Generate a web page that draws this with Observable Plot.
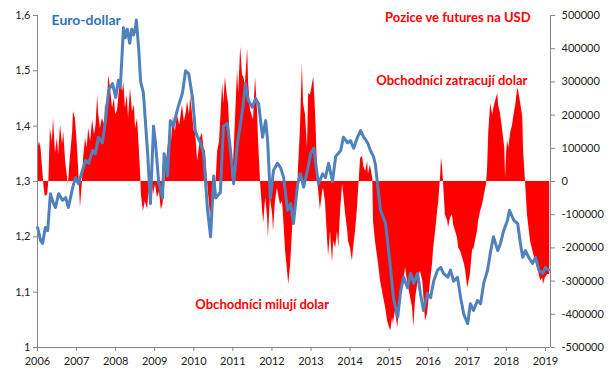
<!DOCTYPE html>
<html><head><meta charset="utf-8">
<script src="https://cdn.jsdelivr.net/npm/d3@7"></script>
<script src="https://cdn.jsdelivr.net/npm/@observablehq/plot@0.6"></script>
<style>body{margin:0;background:#fff}#chart{width:615px;height:381px}</style>
</head><body><div id="chart"></div>
<script>
// Net positions in USD futures (thousands of contracts), by decimal year
const posYears = [2006.00,2006.05,2006.09,2006.13,2006.17,2006.20,2006.26,2006.29,2006.33,2006.38,2006.41,2006.46,2006.51,2006.54,2006.59,2006.64,2006.67,2006.72,2006.76,2006.79,2006.84,2006.90,2006.92,2006.97,2007.02,2007.06,2007.10,2007.15,2007.18,2007.23,2007.27,2007.31,2007.36,2007.41,2007.46,2007.50,2007.54,2007.56,2007.61,2007.66,2007.72,2007.74,2007.79,2007.82,2007.87,2007.92,2007.97,2008.00,2008.05,2008.12,2008.18,2008.21,2008.25,2008.30,2008.33,2008.38,2008.43,2008.48,2008.51,2008.56,2008.60,2008.64,2008.66,2008.71,2008.76,2008.82,2008.85,2008.89,2008.93,2008.97,2009.02,2009.07,2009.12,2009.17,2009.21,2009.25,2009.30,2009.33,2009.38,2009.43,2009.48,2009.53,2009.58,2009.64,2009.66,2009.71,2009.76,2009.81,2009.84,2009.89,2009.92,2009.97,2010.01,2010.04,2010.10,2010.15,2010.17,2010.22,2010.26,2010.30,2010.34,2010.38,2010.43,2010.48,2010.51,2010.56,2010.61,2010.66,2010.68,2010.74,2010.77,2010.81,2010.86,2010.89,2010.94,2010.99,2011.02,2011.07,2011.12,2011.15,2011.20,2011.25,2011.27,2011.32,2011.38,2011.40,2011.45,2011.53,2011.58,2011.63,2011.66,2011.71,2011.76,2011.79,2011.84,2011.89,2011.91,2011.96,2012.02,2012.04,2012.09,2012.14,2012.17,2012.22,2012.27,2012.30,2012.35,2012.40,2012.43,2012.48,2012.53,2012.55,2012.60,2012.66,2012.68,2012.73,2012.78,2012.81,2012.86,2012.91,2012.94,2012.99,2013.04,2013.07,2013.12,2013.17,2013.19,2013.24,2013.30,2013.32,2013.37,2013.42,2013.45,2013.50,2013.55,2013.58,2013.63,2013.68,2013.71,2013.76,2013.81,2013.83,2013.88,2013.94,2013.96,2014.01,2014.06,2014.09,2014.14,2014.19,2014.22,2014.27,2014.32,2014.35,2014.40,2014.45,2014.47,2014.52,2014.58,2014.60,2014.65,2014.73,2014.78,2014.86,2014.91,2014.96,2015.01,2015.04,2015.09,2015.11,2015.16,2015.22,2015.27,2015.29,2015.34,2015.37,2015.42,2015.47,2015.50,2015.55,2015.60,2015.63,2015.68,2015.73,2015.78,2015.80,2015.86,2015.88,2015.93,2015.98,2016.01,2016.06,2016.11,2016.14,2016.19,2016.24,2016.27,2016.32,2016.34,2016.37,2016.39,2016.44,2016.50,2016.52,2016.57,2016.62,2016.65,2016.70,2016.75,2016.78,2016.83,2016.88,2016.93,2016.96,2017.01,2017.03,2017.08,2017.14,2017.16,2017.21,2017.26,2017.29,2017.34,2017.39,2017.44,2017.49,2017.52,2017.55,2017.60,2017.65,2017.67,2017.72,2017.78,2017.80,2017.85,2017.90,2017.93,2017.96,2017.98,2018.01,2018.03,2018.06,2018.11,2018.16,2018.19,2018.24,2018.29,2018.31,2018.36,2018.42,2018.44,2018.49,2018.54,2018.62,2018.70,2018.75,2018.80,2018.88,2018.93,2018.95,2019.00,2019.06,2019.11];
const posValues = [90,120,100,40,-20,-45,-40,0,160,120,190,85,130,80,170,110,150,60,20,-10,70,150,210,190,110,20,-80,0,70,130,100,160,120,185,140,170,260,210,160,190,170,235,200,320,280,220,250,200,215,305,270,300,220,260,190,280,210,230,160,190,110,20,-40,-90,-60,-85,-30,-60,0,-40,-10,-50,-30,-85,-70,-20,60,90,140,120,195,150,200,170,185,230,180,210,240,200,255,200,150,160,60,110,130,145,100,90,20,-40,-108,-60,-50,-30,90,120,165,295,235,315,255,235,95,10,60,195,335,265,405,315,320,290,400,305,215,185,315,215,115,-5,-85,-125,-50,-110,-170,-50,-100,-150,-60,-20,-40,-70,-60,-110,-210,-270,-310,-250,-140,-90,-100,-40,40,160,355,235,200,100,265,260,295,315,200,20,-20,-85,-30,-20,-60,-165,-225,-150,-245,-180,-200,-150,-200,-80,-10,-30,-90,-150,-180,-200,-240,-200,-150,-80,-20,70,75,45,30,60,20,50,10,-120,-180,-250,-300,-350,-380,-420,-440,-450,-410,-430,-390,-440,-380,-350,-320,-300,-260,-300,-320,-350,-380,-440,-350,-310,-280,-270,-300,-330,-420,-400,-370,-300,-250,-200,-150,-90,-60,20,70,40,0,-100,-120,-140,-110,-100,-130,-150,-170,-200,-210,-230,-250,-270,-320,-310,-280,-200,-210,-180,-150,-120,-90,-70,-40,-10,40,150,235,200,215,240,265,230,205,160,130,100,10,90,125,100,145,170,195,230,280,275,240,195,95,0,-100,-180,-220,-240,-260,-300,-290,-310,-290,-280,-280];

// EUR/USD exchange rate, by decimal year
const eurYears = [2006.00,2006.08,2006.13,2006.20,2006.26,2006.33,2006.41,2006.46,2006.54,2006.64,2006.72,2006.79,2006.90,2006.97,2007.05,2007.15,2007.23,2007.31,2007.41,2007.48,2007.56,2007.66,2007.74,2007.82,2007.92,2008.00,2008.07,2008.12,2008.18,2008.20,2008.25,2008.30,2008.36,2008.41,2008.46,2008.51,2008.53,2008.59,2008.64,2008.71,2008.82,2008.89,2008.97,2009.02,2009.10,2009.20,2009.24,2009.33,2009.40,2009.48,2009.58,2009.71,2009.79,2009.87,2009.97,2010.04,2010.17,2010.25,2010.35,2010.43,2010.51,2010.56,2010.68,2010.76,2010.86,2010.94,2011.02,2011.12,2011.25,2011.32,2011.40,2011.50,2011.58,2011.66,2011.76,2011.84,2011.89,2011.96,2012.04,2012.14,2012.22,2012.30,2012.40,2012.48,2012.55,2012.66,2012.73,2012.81,2012.91,2012.99,2013.07,2013.12,2013.19,2013.30,2013.37,2013.45,2013.55,2013.63,2013.76,2013.83,2013.94,2014.01,2014.09,2014.19,2014.27,2014.35,2014.45,2014.52,2014.60,2014.65,2014.70,2014.78,2014.91,2015.04,2015.11,2015.22,2015.29,2015.37,2015.47,2015.55,2015.63,2015.73,2015.80,2015.88,2015.98,2016.06,2016.14,2016.24,2016.32,2016.39,2016.50,2016.57,2016.65,2016.75,2016.83,2016.91,2017.01,2017.08,2017.16,2017.26,2017.34,2017.42,2017.52,2017.60,2017.67,2017.78,2017.85,2017.93,2018.03,2018.08,2018.19,2018.29,2018.36,2018.42,2018.49,2018.57,2018.67,2018.75,2018.83,2018.93,2019.00,2019.08];
const eurValues = [1.217,1.193,1.188,1.217,1.211,1.278,1.26,1.253,1.278,1.266,1.271,1.253,1.289,1.307,1.296,1.32,1.338,1.333,1.356,1.35,1.38,1.37,1.41,1.465,1.477,1.452,1.483,1.47,1.55,1.578,1.56,1.575,1.55,1.575,1.565,1.58,1.592,1.54,1.48,1.46,1.35,1.26,1.40,1.37,1.30,1.27,1.35,1.31,1.41,1.40,1.43,1.46,1.50,1.495,1.45,1.39,1.37,1.35,1.25,1.20,1.31,1.27,1.28,1.40,1.405,1.356,1.296,1.37,1.43,1.477,1.446,1.434,1.45,1.44,1.38,1.41,1.374,1.27,1.32,1.333,1.325,1.307,1.248,1.26,1.224,1.296,1.314,1.29,1.32,1.35,1.36,1.333,1.296,1.314,1.307,1.333,1.30,1.345,1.356,1.38,1.37,1.374,1.36,1.38,1.392,1.38,1.37,1.356,1.345,1.33,1.296,1.248,1.224,1.14,1.09,1.055,1.10,1.127,1.108,1.134,1.116,1.134,1.098,1.067,1.098,1.09,1.12,1.14,1.145,1.134,1.127,1.14,1.12,1.127,1.09,1.06,1.043,1.079,1.067,1.085,1.079,1.116,1.14,1.175,1.2,1.175,1.188,1.211,1.23,1.248,1.23,1.224,1.188,1.163,1.175,1.163,1.152,1.163,1.14,1.134,1.145,1.14];

const yearTicks = [2006,2007,2008,2009,2010,2011,2012,2013,2014,2015,2016,2017,2018,2019];
const eurTicks = [1,1.1,1.2,1.3,1.4,1.5,1.6];
const posTicks = [-500000,-400000,-300000,-200000,-100000,0,100000,200000,300000,400000,500000];
const xDomain = [2006, 2019.13];
const eurDomain = [1, 1.6];

// map positions onto the EUR axis: 0 -> 1.3, ±500000 -> 1.6 / 1.0
const posToEur = p => 1.3 + p * 0.3 / 500000;
const eurToPos = e => Math.round((e - 1.3) / 0.3 * 5) * 100000;

const pos = posYears.map((t, i) => ({t, v: posValues[i] * 1000}));
const eur = eurYears.map((t, i) => ({t, v: eurValues[i]}));

const axisGray = "#868686";
const chart = Plot.plot({
  width: 615, height: 381,
  marginLeft: 37, marginRight: 65, marginTop: 15, marginBottom: 34,
  style: {fontFamily: "Lato, 'Open Sans', sans-serif", fontSize: "11px", background: "#fff", color: "#000"},
  x: {domain: xDomain},
  y: {domain: eurDomain},
  marks: [
    Plot.areaY(pos, {x: "t", y1: posToEur(0), y2: d => posToEur(d.v), fill: "#ff0000", curve: "linear"}),
    Plot.lineY(eur, {x: "t", y: "v", stroke: "#4f81bd", strokeWidth: 3, strokeLinejoin: "round"}),
    Plot.ruleX([xDomain[0]], {stroke: axisGray}),
    Plot.ruleX([xDomain[1]], {stroke: axisGray}),
    Plot.ruleY([eurDomain[0]], {stroke: axisGray}),
    Plot.axisY(eurTicks, {anchor: "left", tickSize: 4, tickPadding: 3, stroke: axisGray, fill: "#222", label: null,
      tickFormat: d => String(d).replace(".", ",")}),
    Plot.axisY(posTicks.map(posToEur), {anchor: "right", tickSize: 4, tickPadding: 7, stroke: axisGray, fill: "#222", label: null,
      tickFormat: d => String(eurToPos(d))}),
    Plot.axisX(yearTicks, {anchor: "bottom", tickSize: 4, tickPadding: 6, stroke: axisGray, fill: "#222", label: null,
      tickFormat: d => String(d)}),
    Plot.text(["Euro-dollar"], {x: 2006.36, y: 1.591, text: d => d, textAnchor: "start", fill: "#2e75b6", fontSize: 14, fontWeight: "bold"}),
    Plot.text(["Pozice ve futures na USD"], {x: 2018.62, y: 1.596, text: d => d, textAnchor: "end", fill: "#ff0000", fontSize: 13, fontWeight: "bold"}),
    Plot.text(["Obchodníci zatracují dolar"], {x: 2018.54, y: 1.4825, text: d => d, textAnchor: "end", fill: "#ff0000", fontSize: 13, fontWeight: "bold"}),
    Plot.text(["Obchodníci milují dolar"], {x: 2010.04, y: 1.078, text: d => d, textAnchor: "start", fill: "#ff0000", fontSize: 13, fontWeight: "bold"})
  ]
});
document.getElementById("chart").appendChild(chart);
</script>
</body></html>
